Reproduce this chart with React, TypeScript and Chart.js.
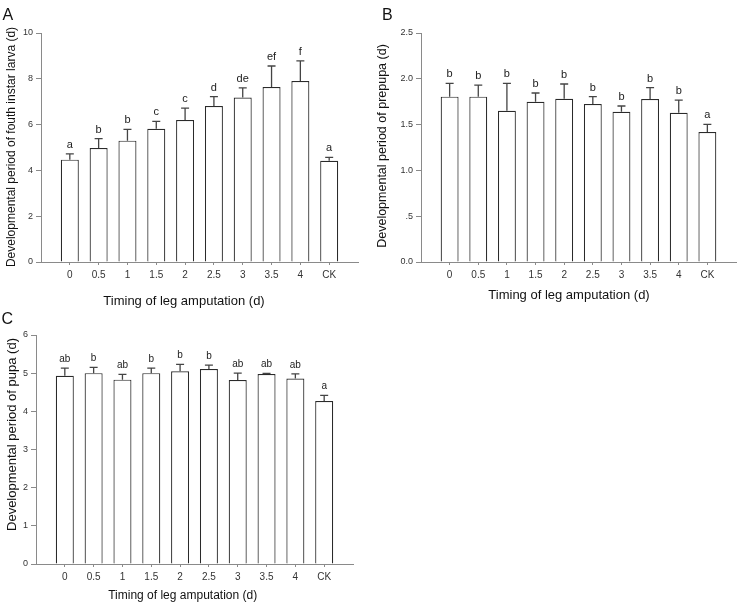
import React, { useEffect, useRef } from "react";
import { Chart, registerables } from "chart.js";

Chart.register(...registerables);

const FONT = "'Liberation Sans', Arial, sans-serif";

const CATEGORIES = ["0", "0.5", "1", "1.5", "2", "2.5", "3", "3.5", "4", "CK"];

// A: fourth instar larva
const LARVA_MEAN = [4.47, 4.98, 5.3, 5.82, 6.2, 6.81, 7.18, 7.64, 7.9, 4.42];
const LARVA_SE = [0.25, 0.41, 0.49, 0.32, 0.52, 0.41, 0.42, 0.92, 0.88, 0.15];
const LARVA_LETTERS = ["a", "b", "b", "c", "c", "d", "de", "ef", "f", "a"];
const LARVA_TICKS = ["0", "2", "4", "6", "8", "10"];

// B: prepupa
const PREPUPA_MEAN = [1.805, 1.805, 1.652, 1.75, 1.783, 1.725, 1.641, 1.78, 1.63, 1.419];
const PREPUPA_SE = [0.145, 0.125, 0.298, 0.095, 0.16, 0.08, 0.062, 0.123, 0.138, 0.084];
const PREPUPA_LETTERS = ["b", "b", "b", "b", "b", "b", "b", "b", "b", "a"];
const PREPUPA_TICKS = ["0.0", ".5", "1.0", "1.5", "2.0", "2.5"];

// C: pupa
const PUPA_MEAN = [4.93, 5.0, 4.83, 5.0, 5.05, 5.11, 4.82, 4.98, 4.86, 4.27];
const PUPA_SE = [0.2, 0.15, 0.14, 0.13, 0.18, 0.1, 0.18, 0.015, 0.12, 0.15];
const PUPA_LETTERS = ["ab", "b", "ab", "b", "b", "b", "ab", "ab", "ab", "a"];
const PUPA_TICKS = ["0", "1", "2", "3", "4", "5", "6"];

const X_TITLE = "Timing of leg amputation (d)";
const AXIS_COLOR = "#8a8a8a";

type PanelProps = {
  letter: string;
  yTitle: string;
  means: number[];
  errors: number[];
  letters: string[];
  yTicks: string[];
  yMax: number;
  yStep: number;
  pos: { left: number; top: number; width: number; height: number };
  area: { left: number; top: number; right: number; bottom: number };
  letterPos: [number, number];
  yTitlePos: [number, number, number]; // x, y, font size
  xTitlePos: [number, number, number];
  markFont: number;
};

const Panel = (p: PanelProps) => {
  const canvasRef = useRef<HTMLCanvasElement>(null);
  const chartRef = useRef<Chart | null>(null);

  useEffect(() => {
    const canvas = canvasRef.current;
    if (!canvas) return;
    if (chartRef.current) chartRef.current.destroy();

    const annotate = {
      id: "annotate",
      afterDatasetsDraw(chart: any) {
        const { ctx } = chart;
        const y = chart.scales.y;
        const meta = chart.getDatasetMeta(0);
        ctx.save();
        ctx.strokeStyle = "#444";
        ctx.lineWidth = 1.3;
        ctx.fillStyle = "#222";
        ctx.font = `${p.markFont}px ${FONT}`;
        ctx.textAlign = "center";
        ctx.textBaseline = "alphabetic";
        meta.data.forEach((bar: any, i: number) => {
          const top = y.getPixelForValue(p.means[i] + p.errors[i]);
          ctx.beginPath();
          ctx.moveTo(bar.x, bar.y);
          ctx.lineTo(bar.x, top);
          ctx.moveTo(bar.x - 4, top);
          ctx.lineTo(bar.x + 4, top);
          ctx.stroke();
          ctx.fillText(p.letters[i], bar.x, top - 6);
        });
        ctx.restore();
      },
      afterDraw(chart: any) {
        const { ctx } = chart;
        ctx.save();
        ctx.fillStyle = "#111";
        ctx.textBaseline = "alphabetic";
        ctx.textAlign = "left";
        ctx.font = `16px ${FONT}`;
        ctx.fillText(p.letter, p.letterPos[0], p.letterPos[1]);

        ctx.textAlign = "center";
        ctx.font = `${p.xTitlePos[2]}px ${FONT}`;
        ctx.fillText(X_TITLE, p.xTitlePos[0], p.xTitlePos[1]);

        ctx.translate(p.yTitlePos[0], p.yTitlePos[1]);
        ctx.rotate(-Math.PI / 2);
        ctx.textBaseline = "middle";
        ctx.font = `${p.yTitlePos[2]}px ${FONT}`;
        ctx.fillText(p.yTitle, 0, 0);
        ctx.restore();
      },
    };

    chartRef.current = new Chart(canvas, {
      type: "bar",
      data: {
        datasets: [
          {
            data: p.means.map((v, i) => ({ x: i, y: v })),
            backgroundColor: "#ffffff",
            borderColor: "#2a2a2a",
            borderWidth: 1.2,
            barPercentage: 0.625,
            categoryPercentage: 1,
          },
        ],
      },
      options: {
        responsive: false,
        animation: false,
        layout: {
          padding: {
            left: 0,
            top: p.area.top,
            right: p.pos.width - p.area.right,
            bottom: 0,
          },
        },
        plugins: {
          legend: { display: false },
          tooltip: { enabled: false },
        },
        scales: {
          x: {
            type: "linear",
            min: -1,
            max: 10,
            offset: false,
            afterFit: (s: any) => {
              s.height = p.pos.height - p.area.bottom;
            },
            grid: {
              offset: false,
              drawOnChartArea: false,
              tickLength: 3,
              tickColor: (c: any) =>
                c.tick && c.tick.value >= 0 && c.tick.value < CATEGORIES.length
                  ? AXIS_COLOR
                  : "rgba(0,0,0,0)",
            },
            border: { color: AXIS_COLOR, width: 1 },
            ticks: {
              stepSize: 1,
              autoSkip: false,
              maxRotation: 0,
              padding: 4,
              color: "#333",
              font: { size: 10, family: FONT },
              callback: (v: any) => CATEGORIES[v] ?? "",
            },
          },
          y: {
            min: 0,
            max: p.yMax,
            afterFit: (s: any) => {
              s.width = p.area.left;
            },
            grid: {
              drawOnChartArea: false,
              tickLength: 5,
              tickColor: AXIS_COLOR,
            },
            border: { color: AXIS_COLOR, width: 1 },
            ticks: {
              stepSize: p.yStep,
              padding: 3,
              color: "#333",
              font: { size: 9, family: FONT },
              callback: (_v: any, i: number) => p.yTicks[i],
            },
          },
        },
      },
      plugins: [annotate],
    } as any);

    return () => {
      if (chartRef.current) {
        chartRef.current.destroy();
        chartRef.current = null;
      }
    };
  }, []);

  return (
    <canvas
      ref={canvasRef}
      width={p.pos.width}
      height={p.pos.height}
      style={{
        position: "absolute",
        left: p.pos.left,
        top: p.pos.top,
        width: p.pos.width,
        height: p.pos.height,
      }}
    />
  );
};

const App = () => {
  return (
    <div
      style={{
        position: "fixed",
        left: 0,
        top: 0,
        width: 740,
        height: 604,
        background: "#fff",
        overflow: "hidden",
      }}
    >
      <Panel
        letter="A"
        yTitle="Developmental period of fouth instar larva (d)"
        means={LARVA_MEAN}
        errors={LARVA_SE}
        letters={LARVA_LETTERS}
        yTicks={LARVA_TICKS}
        yMax={10}
        yStep={2}
        pos={{ left: 0, top: 0, width: 370, height: 310 }}
        area={{ left: 41, top: 33, right: 358, bottom: 262 }}
        letterPos={[2.5, 20]}
        yTitlePos={[12, 147, 12]}
        xTitlePos={[184, 305, 13]}
        markFont={11}
      />
      <Panel
        letter="B"
        yTitle="Developmental period of prepupa (d)"
        means={PREPUPA_MEAN}
        errors={PREPUPA_SE}
        letters={PREPUPA_LETTERS}
        yTicks={PREPUPA_TICKS}
        yMax={2.5}
        yStep={0.5}
        pos={{ left: 370, top: 0, width: 370, height: 310 }}
        area={{ left: 51, top: 33, right: 368, bottom: 262 }}
        letterPos={[12, 20]}
        yTitlePos={[12.7, 146, 12.5]}
        xTitlePos={[199, 299, 13]}
        markFont={11}
      />
      <Panel
        letter="C"
        yTitle="Developmental period of pupa (d)"
        means={PUPA_MEAN}
        errors={PUPA_SE}
        letters={PUPA_LETTERS}
        yTicks={PUPA_TICKS}
        yMax={6}
        yStep={1}
        pos={{ left: 0, top: 310, width: 370, height: 294 }}
        area={{ left: 36, top: 25, right: 353, bottom: 254 }}
        letterPos={[1.5, 14]}
        yTitlePos={[12.7, 124.5, 13]}
        xTitlePos={[182.7, 289, 12]}
        markFont={10}
      />
    </div>
  );
};

export default App;
